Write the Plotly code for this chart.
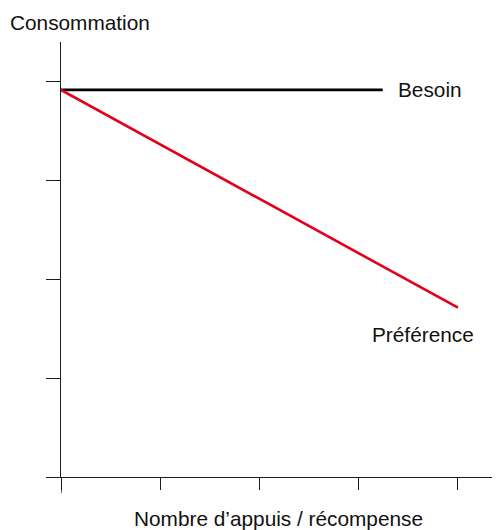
import plotly.graph_objects as go

# Data (unit = one tick interval)
besoin_x = [0, 3.25]
besoin_y = [3.91, 3.91]
pref_x = [0, 4.01]
pref_y = [3.91, 1.71]
tick_vals = [0, 1, 2, 3, 4]

labels = ["Besoin", "Préférence"]
label_x = [3.38, 3.12]
label_y = [3.91, 1.44]

FONT = "Liberation Sans, Arial, sans-serif"
AX = "#1a1a1a"
FS = 20.8

fig = go.Figure()
fig.add_trace(go.Scatter(x=besoin_x, y=besoin_y, mode="lines",
                         line=dict(color="#000000", width=2.6), showlegend=False,
                         hoverinfo="skip"))
fig.add_trace(go.Scatter(x=pref_x, y=pref_y, mode="lines",
                         line=dict(color="#e2001a", width=2.6), showlegend=False,
                         hoverinfo="skip"))

for t, lx, ly in zip(labels, label_x, label_y):
    fig.add_annotation(x=lx, y=ly, xref="x", yref="y", text=t, showarrow=False,
                       xanchor="left", yanchor="middle",
                       font=dict(family=FONT, size=FS, color="#111"))

fig.add_annotation(x=-53/439, y=1.0 + 20/435, xref="paper", yref="paper",
                   text="Consommation", showarrow=False, xanchor="left",
                   yanchor="middle", font=dict(family=FONT, size=FS, color="#111"))
fig.add_annotation(x=0.495, y=-41/435, xref="paper", yref="paper",
                   text="Nombre d’appuis / récompense", showarrow=False,
                   xanchor="center", yanchor="middle",
                   font=dict(family=FONT, size=FS, color="#111"))

# y-axis extension below the origin
fig.add_shape(type="line", xref="x", yref="paper", x0=0, x1=0, y0=0, y1=-16/435,
              line=dict(color=AX, width=1.3))

fig.update_xaxes(range=[0, 439/99], showgrid=False, zeroline=False,
                 showline=True, linecolor=AX, linewidth=1.3,
                 tickmode="array", tickvals=tick_vals, ticks="outside",
                 ticklen=12, tickwidth=1.3, tickcolor=AX, showticklabels=False,
                 fixedrange=True)
fig.update_yaxes(range=[0, 435/99], showgrid=False, zeroline=False,
                 showline=True, linecolor=AX, linewidth=1.3,
                 tickmode="array", tickvals=tick_vals, ticks="outside",
                 ticklen=14, tickwidth=1.3, tickcolor=AX, showticklabels=False,
                 fixedrange=True)

# page body has an 8px margin: figure is 492x522 so the plot lands where the reference has it
fig.update_layout(width=492, height=522, margin=dict(l=53, r=0, t=34, b=53),
                  paper_bgcolor="white", plot_bgcolor="white",
                  font=dict(family=FONT))

fig.write_html("out.html")
